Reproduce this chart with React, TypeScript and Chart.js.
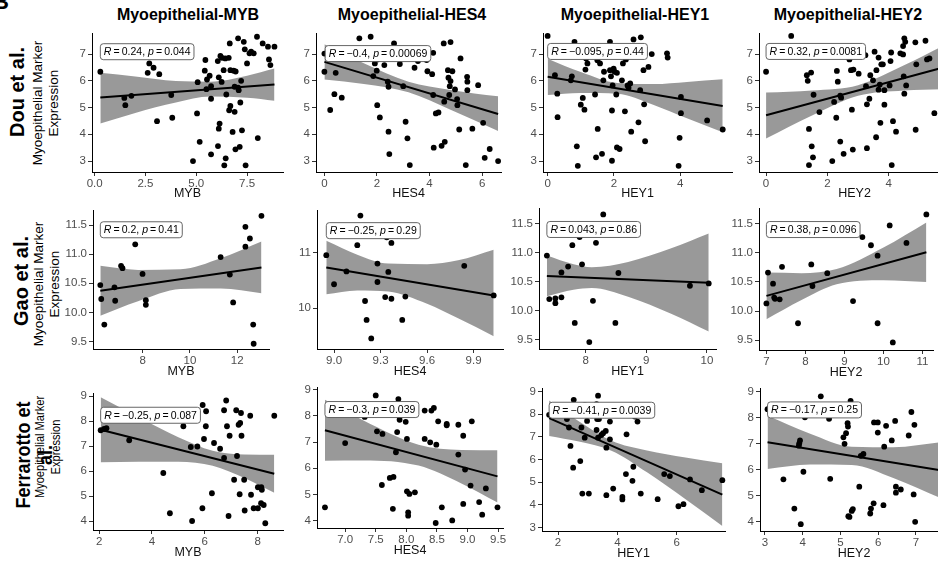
import React, { useEffect, useRef } from "react";
import { Chart, registerables } from "chart.js";
Chart.register(...registerables);

const FONT = '"Liberation Sans", Arial, Helvetica, sans-serif';
Chart.defaults.font.family = FONT;

// ---------------- titles ----------------
const columnTitles = ["Myoepithelial-MYB", "Myoepithelial-HES4", "Myoepithelial-HEY1", "Myoepithelial-HEY2"];
const xAxisTitles = ["MYB", "HES4", "HEY1", "HEY2"];
const rowTitles = ["Dou et al.", "Gao et al.", "Ferrarotto et", "al."];
const yTitleLines = ["Myoepithelial Marker", "Expression"];

// ---------------- Dou et al. ----------------
const douYTicks = [3, 4, 5, 6, 7];
const douYTickLabels = ["3", "4", "5", "6", "7"];

const douMybX = [0.28,1.46,1.51,1.81,2.69,2.61,2.90,3.18,3.07,3.77,3.82,4.84,5.04,5.07,5.17,5.45,5.42,5.50,5.53,5.66,5.73,5.73,5.73,6.06,6.19,6.27,6.11,6.35,6.25,6.15,6.11,6.07,6.43,6.38,6.45,6.48,6.60,6.65,6.68,6.68,6.62,6.79,6.84,6.89,6.89,6.94,6.93,7.06,7.06,7.09,7.14,7.17,7.21,7.25,7.34,7.39,7.43,7.50,7.62,7.70,7.83,7.99,8.03,8.27,8.53,8.58,8.65,8.85];
const douMybY = [6.34,5.36,5.09,5.44,6.65,6.30,6.49,6.25,4.49,5.47,4.62,3.00,4.78,5.95,3.72,6.78,6.38,5.69,6.05,6.19,5.80,5.33,3.25,6.74,6.93,6.86,6.13,6.40,5.96,4.40,4.21,3.56,6.84,2.84,3.10,5.49,6.86,7.40,6.40,5.06,4.90,4.09,6.38,5.78,4.84,6.35,3.44,7.59,5.75,5.65,3.53,5.19,6.00,4.15,7.46,7.18,2.84,6.65,7.03,7.09,7.03,7.65,3.86,7.40,7.28,6.80,6.59,7.28];
const douMybFitX = [0.28, 8.85];
const douMybFitY = [5.38, 5.86];
const douMybBandX = [0.28, 2, 4, 5.7, 7.5, 8.85];
const douMybBandHi = [6.30, 6.16, 5.99, 5.97, 6.19, 6.46];
const douMybBandLo = [4.40, 4.80, 5.19, 5.41, 5.37, 5.26];
const douMybXTicks = [0, 2.5, 5, 7.5];
const douMybXTickLabels = ["0.0", "2.5", "5.0", "7.5"];

const douHes4X = [0,0,0.22,0.43,0.38,0.66,1.33,1.76,1.86,1.92,1.99,2.01,2.01,2.11,2.28,2.41,2.44,2.44,2.47,2.65,2.87,3.0,3.09,3.16,3.25,3.43,3.56,3.89,3.92,4.10,4.14,4.14,4.16,4.24,4.34,4.46,4.54,4.56,4.58,4.70,4.72,4.77,4.80,4.80,4.75,4.87,4.97,5.05,5.06,5.13,5.18,5.43,5.44,5.44,5.38,5.63,5.85,6.04,6.10,6.29,6.61];
const douHes4Y = [7.02,6.34,4.91,6.30,5.50,5.37,7.59,7.65,6.18,6.65,6.38,6.80,5.09,4.63,6.59,5.97,5.78,4.10,3.26,7.40,6.63,5.80,4.47,3.85,2.85,6.49,6.74,6.78,6.36,6.25,7.05,5.47,3.50,4.78,4.82,3.57,7.40,5.22,3.72,6.40,6.12,5.80,7.45,5.99,5.47,6.36,5.68,5.32,5.09,4.18,6.84,6.15,5.97,5.65,2.85,4.21,5.84,4.43,3.12,3.45,3.00];
const douHes4FitX = [0, 6.61];
const douHes4FitY = [6.71, 4.76];
const douHes4BandX = [0, 1.5, 3.2, 4.8, 6.61];
const douHes4BandHi = [7.37, 6.66, 5.97, 5.66, 5.42];
const douHes4BandLo = [6.05, 5.88, 5.57, 4.92, 4.12];
const douHes4XTicks = [0, 2, 4, 6];
const douHes4XTickLabels = ["0", "2", "4", "6"];

const douHey1X = [0,0.22,0.29,0.30,0.70,0.73,0.81,0.88,0.91,1.0,1.06,1.11,1.14,1.20,1.16,1.43,1.46,1.51,1.50,1.58,1.64,1.68,1.70,1.81,1.88,1.88,1.91,1.94,1.94,1.96,1.99,2.02,2.07,2.09,2.09,2.17,2.24,2.27,2.33,2.36,2.41,2.44,2.49,2.52,2.59,2.74,2.79,2.81,2.89,2.91,2.94,3.04,3.14,3.60,3.62,3.95,3.98,4.02,4.02,4.81,5.28];
const douHey1Y = [7.68,6.21,5.52,4.64,6.02,6.17,7.46,3.55,2.82,5.11,5.36,4.92,6.42,6.65,6.84,5.49,3.14,4.20,6.77,6.65,3.27,6.02,6.34,7.28,7.46,6.40,6.17,3.01,4.89,5.83,6.46,6.34,5.49,6.30,3.51,3.45,6.02,6.65,4.86,6.80,5.83,5.74,5.90,4.10,7.55,4.45,5.65,7.63,6.40,5.12,3.74,6.52,7.00,7.03,6.87,2.82,3.87,5.40,4.79,4.52,4.18];
const douHey1FitX = [0, 5.28];
const douHey1FitY = [6.15, 5.06];
const douHey1BandX = [0, 1, 2.1, 3.2, 4.2, 5.28];
const douHey1BandHi = [6.83, 6.33, 5.92, 5.88, 5.96, 6.06];
const douHey1BandLo = [5.47, 5.55, 5.52, 5.10, 4.60, 4.08];
const douHey1XTicks = [0, 2, 4];
const douHey1XTickLabels = ["0", "2", "4"];

const douHey2X = [0,0.82,1.33,1.36,1.47,1.55,1.40,1.40,1.49,1.53,1.74,2.16,2.22,2.29,2.31,2.34,2.42,2.45,2.42,2.53,2.72,2.77,2.85,2.83,2.80,3.02,3.24,3.26,3.29,3.29,3.37,3.40,3.49,3.54,3.59,3.60,3.67,3.67,3.71,3.73,3.76,3.81,3.86,3.86,4.03,4.06,4.08,4.10,4.14,4.24,4.38,4.47,4.51,4.47,4.54,4.49,4.51,4.57,4.87,4.88,4.90,5.20,5.25,5.33,5.49];
const douHey2Y = [6.34,7.68,6.21,6.00,6.31,5.48,4.20,2.85,3.55,3.14,4.83,3.00,5.21,4.62,6.37,5.97,5.45,5.37,3.73,3.27,6.80,6.40,6.42,3.43,4.92,6.27,6.96,5.80,5.12,3.48,5.33,6.21,6.02,7.09,3.89,6.40,6.87,5.67,5.86,4.43,6.62,6.62,5.11,5.65,5.83,6.74,7.06,2.85,4.49,4.10,7.03,6.99,7.59,7.30,7.46,6.17,5.52,5.83,7.44,4.17,6.62,7.50,6.80,6.84,4.79];
const douHey2FitX = [0, 5.75];
const douHey2FitY = [4.71, 6.49];
const douHey2BandX = [0, 1.5, 3, 4.5, 5.75];
const douHey2BandHi = [5.56, 5.64, 5.84, 6.58, 7.29];
const douHey2BandLo = [3.84, 4.70, 5.44, 5.64, 5.69];
const douHey2XTicks = [0, 2, 4, 6];
const douHey2XTickLabels = ["0", "2", "4", "6"];

// ---------------- Gao et al. ----------------
const gaoYTicks = [9.5, 10, 10.5, 11, 11.5];
const gaoYTickLabels = ["9.5", "10.0", "10.5", "11.0", "11.5"];
const gaoHes4YTicks = [10, 11];
const gaoHes4YTickLabels = ["10", "11"];

const gaoMybX = [6.20,6.24,6.37,6.80,6.83,7.08,7.14,7.68,7.99,8.13,8.13,11.30,11.69,11.83,12.35,12.35,12.54,12.68,12.70,13.03];
const gaoMybY = [10.47,10.23,9.79,10.43,10.20,10.80,10.76,11.17,10.66,10.21,10.13,10.95,10.65,10.17,11.47,11.13,11.27,9.79,9.46,11.66];
const gaoMybFitX = [6.2, 13.03];
const gaoMybFitY = [10.37, 10.77];
const gaoMybBandX = [6.2, 7.8, 9.6, 11.3, 13.03];
const gaoMybBandHi = [10.80, 10.73, 10.74, 10.93, 11.22];
const gaoMybBandLo = [9.94, 10.19, 10.40, 10.41, 10.33];
const gaoMybXTicks = [8, 10, 12];
const gaoMybXTickLabels = ["8", "10", "12"];

const gaoHes4X = [8.95,9.0,9.08,9.15,9.17,9.20,9.21,9.24,9.28,9.28,9.33,9.34,9.35,9.37,9.37,9.44,9.46,9.84,10.03,9.25];
const gaoHes4Y = [10.95,10.43,10.66,11.13,11.66,10.13,9.79,9.46,10.80,10.47,10.20,11.27,10.65,11.17,10.17,9.79,10.21,10.76,10.23,11.47];
const gaoHes4FitX = [8.95, 10.03];
const gaoHes4FitY = [10.73, 10.23];
const gaoHes4BandX = [8.95, 9.15, 9.35, 9.6, 9.8, 10.03];
const gaoHes4BandHi = [11.21, 10.96, 10.80, 10.79, 10.86, 11.05];
const gaoHes4BandLo = [10.25, 10.32, 10.30, 10.08, 9.82, 9.50];
const gaoHes4XTicks = [9.0, 9.3, 9.6, 9.9];
const gaoHes4XTickLabels = ["9.0", "9.3", "9.6", "9.9"];

const gaoHey1X = [7.36,7.40,7.50,7.50,7.60,7.60,7.71,7.78,7.82,7.90,7.94,8.06,8.12,8.17,8.29,8.49,8.54,9.72,10.03,7.95];
const gaoHey1Y = [10.95,10.20,10.21,10.13,10.23,10.66,10.76,11.13,9.79,11.27,10.80,9.46,10.17,11.17,11.66,9.79,10.65,10.43,10.47,11.47];
const gaoHey1FitX = [7.36, 10.03];
const gaoHey1FitY = [10.60, 10.48];
const gaoHey1BandX = [7.36, 7.8, 8.1, 8.7, 9.4, 10.03];
const gaoHey1BandHi = [10.95, 10.80, 10.75, 10.84, 11.07, 11.33];
const gaoHey1BandLo = [10.25, 10.36, 10.39, 10.24, 9.95, 9.64];
const gaoHey1XTicks = [8, 9, 10];
const gaoHey1XTickLabels = ["8", "9", "10"];

const gaoHey2X = [7.0,7.04,7.17,7.20,7.34,7.40,7.81,8.15,8.18,8.56,9.22,9.46,9.68,9.85,9.85,10.16,10.24,10.59,11.10,7.22];
const gaoHey2Y = [10.13,10.66,10.47,10.23,10.20,10.76,9.79,10.80,10.43,10.65,10.17,11.27,11.13,9.79,10.95,11.47,9.46,11.17,11.66,10.21];
const gaoHey2FitX = [7.0, 11.1];
const gaoHey2FitY = [10.26, 11.01];
const gaoHey2BandX = [7.0, 7.9, 8.8, 10, 11.1];
const gaoHey2BandHi = [10.66, 10.65, 10.72, 11.09, 11.52];
const gaoHey2BandLo = [9.86, 10.19, 10.46, 10.53, 10.50];
const gaoHey2XTicks = [7, 8, 9, 10, 11];
const gaoHey2XTickLabels = ["7", "8", "9", "10", "11"];

// ---------------- Ferrarotto et al. ----------------
const ferYTicks = [4, 5, 6, 7, 8, 9];
const ferYTickLabels = ["4", "5", "6", "7", "8", "9"];
const ferHey1YTicks = [3, 4, 5, 6, 7, 8, 9];
const ferHey1YTickLabels = ["3", "4", "5", "6", "7", "8", "9"];

const ferMybX = [2.06,2.19,2.28,3.14,4.43,4.68,5.19,5.47,5.52,5.72,5.92,5.91,5.97,6.05,6.04,6.27,6.35,6.58,6.73,6.73,6.81,6.84,6.94,6.90,7.11,7.19,7.22,7.28,7.34,7.37,7.39,7.32,7.49,7.51,7.72,7.75,7.85,8.01,8.01,8.14,8.16,8.13,8.23,8.29,8.63];
const ferMybY = [7.64,7.69,7.72,7.24,5.93,4.32,7.80,6.97,4.01,6.99,8.65,4.52,7.29,8.40,7.80,5.12,7.13,6.90,8.44,6.53,8.83,7.80,7.42,4.21,5.66,8.44,6.61,7.86,7.93,8.33,7.42,5.08,5.66,4.43,8.22,5.06,4.52,4.52,5.36,5.36,5.26,4.72,4.65,3.92,8.22];
const ferMybFitX = [2.06, 8.63];
const ferMybFitY = [7.66, 5.90];
const ferMybBandX = [2.06, 3.5, 5, 6.3, 7.5, 8.63];
const ferMybBandHi = [8.96, 8.16, 7.36, 6.82, 6.67, 6.66];
const ferMybBandLo = [6.36, 6.38, 6.38, 6.22, 5.73, 5.14];
const ferMybXTicks = [2, 4, 6, 8];
const ferMybXTickLabels = ["2", "4", "6", "8"];

const ferHes4X = [6.67,7.0,7.32,7.50,7.52,7.60,7.61,7.73,7.79,7.78,7.83,7.85,7.87,7.89,7.99,8.01,8.01,8.03,8.03,8.05,8.14,8.30,8.30,8.39,8.41,8.45,8.49,8.48,8.52,8.58,8.66,8.66,8.75,8.85,8.85,8.93,8.93,8.96,9.05,9.07,9.19,9.24,9.30,9.49];
const ferHes4Y = [4.51,6.96,7.96,8.78,7.41,5.36,7.31,5.63,5.67,4.45,6.61,7.38,8.64,7.85,7.77,5.12,7.12,4.32,4.19,5.02,5.08,8.20,7.12,6.99,8.20,8.30,6.90,3.91,7.79,4.51,7.69,7.64,4.01,7.66,6.52,7.24,4.64,5.95,5.34,7.79,4.71,4.23,5.23,4.51];
const ferHes4FitX = [6.67, 9.49];
const ferHes4FitY = [7.45, 5.69];
const ferHes4BandX = [6.67, 7.3, 8.2, 8.9, 9.49];
const ferHes4BandHi = [8.61, 7.82, 6.90, 6.70, 6.69];
const ferHes4BandLo = [6.29, 6.30, 6.10, 5.42, 4.69];
const ferHes4XTicks = [7.0, 7.5, 8.0, 8.5, 9.0, 9.5];
const ferHes4XTickLabels = ["7.0", "7.5", "8.0", "8.5", "9.0", "9.5"];

const ferHey1X = [1.70,2.30,2.37,2.42,2.53,2.51,2.75,2.79,2.82,2.90,2.98,3.04,3.30,3.32,3.35,3.35,3.38,3.46,3.52,3.61,3.63,3.63,3.75,3.75,3.86,4.17,4.17,4.29,4.31,4.54,4.51,4.59,4.68,4.79,5.36,5.58,5.77,6.06,6.23,6.45,6.85,7.54,2.90,3.30,3.90,4.40];
const ferHey1Y = [7.97,7.78,7.41,6.60,8.63,5.64,5.93,7.41,4.50,6.96,7.70,4.50,7.30,7.78,6.96,8.81,7.78,7.08,7.16,7.26,6.52,4.43,7.67,6.89,4.72,4.35,4.24,5.36,7.11,5.68,5.06,7.89,7.67,4.50,4.25,5.36,5.27,3.94,4.03,5.12,4.65,5.09,8.40,8.44,8.22,8.30];
const ferHey1FitX = [1.70, 7.54];
const ferHey1FitY = [7.82, 4.45];
const ferHey1BandX = [1.7, 2.7, 3.8, 5, 6.3, 7.54];
const ferHey1BandHi = [8.60, 7.69, 6.83, 6.40, 6.09, 5.83];
const ferHey1BandLo = [7.04, 6.79, 6.39, 5.44, 4.25, 3.07];
const ferHey1XTicks = [2, 4, 6];
const ferHey1XTickLabels = ["2", "4", "6"];

const ferHey2X = [3.07,3.49,3.78,3.93,3.91,3.90,3.95,4.02,4.06,4.48,4.70,4.73,5.08,5.11,5.15,5.19,5.20,5.21,5.24,5.27,5.30,5.33,5.48,5.50,5.54,5.61,5.79,5.81,5.88,5.89,5.99,5.99,6.14,6.16,6.21,6.36,6.45,6.47,6.47,6.60,6.81,6.88,6.96,6.94,6.98];
const ferHey2Y = [8.32,5.63,4.51,7.12,7.01,6.92,3.91,5.92,8.01,8.81,7.95,5.65,7.24,6.99,7.40,7.78,7.65,4.22,4.19,8.64,4.42,4.49,8.46,5.35,6.53,6.60,4.32,4.51,4.71,7.81,7.81,7.42,4.64,6.88,7.68,7.12,7.87,5.35,5.12,5.24,7.31,8.21,7.72,5.05,4.00];
const ferHey2FitX = [3.07, 7.65];
const ferHey2FitY = [7.05, 5.98];
const ferHey2BandX = [3.07, 4.2, 5.3, 6.4, 7.65];
const ferHey2BandHi = [8.07, 7.38, 6.88, 6.86, 7.05];
const ferHey2BandLo = [6.03, 6.20, 6.18, 5.68, 4.91];
const ferHey2XTicks = [3, 4, 5, 6, 7];
const ferHey2XTickLabels = ["3", "4", "5", "6", "7"];

// ---------------- correlation labels ----------------
const statR = ["0.24", "\u22120.4", "\u22120.095", "0.32", "0.2", "\u22120.25", "0.043", "0.38", "\u22120.25", "\u22120.3", "\u22120.41", "\u22120.17"];
const statP = ["0.044", "0.00069", "0.44", "0.0081", "0.41", "0.29", "0.86", "0.096", "0.087", "0.039", "0.0039", "0.25"];

// ---------------- panel assembly (styling / layout) ----------------
type PanelSpec = {
  xs: number[]; ys: number[];
  fitX: number[]; fitY: number[];
  bandX: number[]; bandHi: number[]; bandLo: number[];
  statX: number; statY: number;
  xTicks: number[]; xTickLabels: string[];
  yTicks: number[]; yTickLabels: string[];
  xMin: number; xMax: number; yMin: number; yMax: number;
  xTitle: string;
  rect: number[]; xh: number;
};

const PANELS: PanelSpec[] = [
  { xs: douMybX, ys: douMybY, fitX: douMybFitX, fitY: douMybFitY, bandX: douMybBandX, bandHi: douMybBandHi, bandLo: douMybBandLo, statX: 0.28, statY: 7.09, xTicks: douMybXTicks, xTickLabels: douMybXTickLabels, yTicks: douYTicks, yTickLabels: douYTickLabels, xMin: -0.13, xMax: 9.27, yMin: 2.59, yMax: 7.79, xTitle: xAxisTitles[0], rect: [92, 33, 283, 172], xh: 29 },
  { xs: douHes4X, ys: douHes4Y, fitX: douHes4FitX, fitY: douHes4FitY, bandX: douHes4BandX, bandHi: douHes4BandHi, bandLo: douHes4BandLo, statX: 0.03, statY: 7.02, xTicks: douHes4XTicks, xTickLabels: douHes4XTickLabels, yTicks: douYTicks, yTickLabels: douYTickLabels, xMin: -0.32, xMax: 6.72, yMin: 2.59, yMax: 7.79, xTitle: xAxisTitles[1], rect: [316, 33, 501, 172], xh: 29 },
  { xs: douHey1X, ys: douHey1Y, fitX: douHey1FitX, fitY: douHey1FitY, bandX: douHey1BandX, bandHi: douHey1BandHi, bandLo: douHey1BandLo, statX: 0, statY: 7.10, xTicks: douHey1XTicks, xTickLabels: douHey1XTickLabels, yTicks: douYTicks, yTickLabels: douYTickLabels, xMin: -0.14, xMax: 5.56, yMin: 2.59, yMax: 7.79, xTitle: xAxisTitles[2], rect: [543, 33, 732, 172], xh: 29 },
  { xs: douHey2X, ys: douHey2Y, fitX: douHey2FitX, fitY: douHey2FitY, bandX: douHey2BandX, bandHi: douHey2BandHi, bandLo: douHey2BandLo, statX: 0, statY: 7.10, xTicks: douHey2XTicks, xTickLabels: douHey2XTickLabels, yTicks: douYTicks, yTickLabels: douYTickLabels, xMin: -0.23, xMax: 6.0, yMin: 2.59, yMax: 7.79, xTitle: xAxisTitles[3], rect: [759, 33, 950, 172], xh: 29 },

  { xs: gaoMybX, ys: gaoMybY, fitX: gaoMybFitX, fitY: gaoMybFitY, bandX: gaoMybBandX, bandHi: gaoMybBandHi, bandLo: gaoMybBandLo, statX: 6.2, statY: 11.42, xTicks: gaoMybXTicks, xTickLabels: gaoMybXTickLabels, yTicks: gaoYTicks, yTickLabels: gaoYTickLabels, xMin: 5.89, xMax: 13.35, yMin: 9.37, yMax: 11.76, xTitle: xAxisTitles[0], rect: [93, 210, 269, 349], xh: 30 },
  { xs: gaoHes4X, ys: gaoHes4Y, fitX: gaoHes4FitX, fitY: gaoHes4FitY, bandX: gaoHes4BandX, bandHi: gaoHes4BandHi, bandLo: gaoHes4BandLo, statX: 8.95, statY: 11.39, xTicks: gaoHes4XTicks, xTickLabels: gaoHes4XTickLabels, yTicks: gaoHes4YTicks, yTickLabels: gaoHes4YTickLabels, xMin: 8.89, xMax: 10.09, yMin: 9.27, yMax: 11.76, xTitle: xAxisTitles[1], rect: [317, 210, 503, 349], xh: 30 },
  { xs: gaoHey1X, ys: gaoHey1Y, fitX: gaoHey1FitX, fitY: gaoHey1FitY, bandX: gaoHey1BandX, bandHi: gaoHey1BandHi, bandLo: gaoHey1BandLo, statX: 7.36, statY: 11.40, xTicks: gaoHey1XTicks, xTickLabels: gaoHey1XTickLabels, yTicks: gaoYTicks, yTickLabels: gaoYTickLabels, xMin: 7.23, xMax: 10.15, yMin: 9.34, yMax: 11.77, xTitle: xAxisTitles[2], rect: [539, 208, 716, 349], xh: 30 },
  { xs: gaoHey2X, ys: gaoHey2Y, fitX: gaoHey2FitX, fitY: gaoHey2FitY, bandX: gaoHey2BandX, bandHi: gaoHey2BandHi, bandLo: gaoHey2BandLo, statX: 7.0, statY: 11.40, xTicks: gaoHey2XTicks, xTickLabels: gaoHey2XTickLabels, yTicks: gaoYTicks, yTickLabels: gaoYTickLabels, xMin: 6.81, xMax: 11.27, yMin: 9.33, yMax: 11.77, xTitle: xAxisTitles[3], rect: [759, 208, 933, 350], xh: 30 },

  { xs: ferMybX, ys: ferMybY, fitX: ferMybFitX, fitY: ferMybFitY, bandX: ferMybBandX, bandHi: ferMybBandHi, bandLo: ferMybBandLo, statX: 2.06, statY: 8.24, xTicks: ferMybXTicks, xTickLabels: ferMybXTickLabels, yTicks: ferYTicks, yTickLabels: ferYTickLabels, xMin: 1.77, xMax: 8.96, yMin: 3.65, yMax: 9.13, xTitle: xAxisTitles[0], rect: [93, 393, 283, 530], xh: 30 },
  { xs: ferHes4X, ys: ferHes4Y, fitX: ferHes4FitX, fitY: ferHes4FitY, bandX: ferHes4BandX, bandHi: ferHes4BandHi, bandLo: ferHes4BandLo, statX: 6.67, statY: 8.24, xTicks: ferHes4XTicks, xTickLabels: ferHes4XTickLabels, yTicks: ferYTicks, yTickLabels: ferYTickLabels, xMin: 6.54, xMax: 9.58, yMin: 3.72, yMax: 9.10, xTitle: xAxisTitles[1], rect: [317, 387, 503, 528], xh: 30 },
  { xs: ferHey1X, ys: ferHey1Y, fitX: ferHey1FitX, fitY: ferHey1FitY, bandX: ferHey1BandX, bandHi: ferHey1BandHi, bandLo: ferHey1BandLo, statX: 1.70, statY: 8.17, xTicks: ferHey1XTicks, xTickLabels: ferHey1XTickLabels, yTicks: ferHey1YTicks, yTickLabels: ferHey1YTickLabels, xMin: 1.46, xMax: 7.63, yMin: 2.85, yMax: 9.15, xTitle: xAxisTitles[2], rect: [542, 388, 725, 531], xh: 30 },
  { xs: ferHey2X, ys: ferHey2Y, fitX: ferHey2FitX, fitY: ferHey2FitY, bandX: ferHey2BandX, bandHi: ferHey2BandHi, bandLo: ferHey2BandLo, statX: 3.07, statY: 8.29, xTicks: ferHey2XTicks, xTickLabels: ferHey2XTickLabels, yTicks: ferYTicks, yTickLabels: ferYTickLabels, xMin: 2.87, xMax: 7.85, yMin: 3.65, yMax: 9.13, xTitle: xAxisTitles[3], rect: [760, 388, 948, 531], xh: 30 },
];

const YW = 44;
const PT = 6;
const PR = 8;
const BAND = "rgba(0,0,0,0.4)";
const TICK_COLOR = "#4d4d4d";

function Panel({ spec, idx }: { spec: PanelSpec; idx: number }) {
  const ref = useRef<HTMLCanvasElement>(null);
  const [l, t, r, b] = spec.rect;
  const width = r - l + YW + PR;
  const height = b - t + PT + spec.xh;

  useEffect(() => {
    const statPlugin = {
      id: "statLabel",
      afterDatasetsDraw(chart: any) {
        const ctx = chart.ctx;
        const px = chart.scales.x.getPixelForValue(spec.statX);
        const py = chart.scales.y.getPixelForValue(spec.statY);
        const parts = [
          { t: "R", it: true },
          { t: "\u2009=\u2009" + statR[idx] + ", ", it: false },
          { t: "p", it: true },
          { t: "\u2009=\u2009" + statP[idx], it: false },
        ];
        const size = 10.5;
        ctx.save();
        let w = 0;
        const widths = parts.map((p) => {
          ctx.font = (p.it ? "italic " : "") + size + "px " + FONT;
          const m = ctx.measureText(p.t).width;
          w += m;
          return m;
        });
        const pad = 3.5;
        const h = 16;
        const bx = px, by = py - h / 2, bw = w + 2 * pad;
        ctx.beginPath();
        const rr = 3;
        ctx.moveTo(bx + rr, by);
        ctx.lineTo(bx + bw - rr, by);
        ctx.quadraticCurveTo(bx + bw, by, bx + bw, by + rr);
        ctx.lineTo(bx + bw, by + h - rr);
        ctx.quadraticCurveTo(bx + bw, by + h, bx + bw - rr, by + h);
        ctx.lineTo(bx + rr, by + h);
        ctx.quadraticCurveTo(bx, by + h, bx, by + h - rr);
        ctx.lineTo(bx, by + rr);
        ctx.quadraticCurveTo(bx, by, bx + rr, by);
        ctx.closePath();
        ctx.fillStyle = "#ffffff";
        ctx.fill();
        ctx.strokeStyle = "#555555";
        ctx.lineWidth = 0.9;
        ctx.stroke();
        ctx.fillStyle = "#000000";
        ctx.textBaseline = "middle";
        let cx = bx + pad;
        parts.forEach((p, i) => {
          ctx.font = (p.it ? "italic " : "") + size + "px " + FONT;
          ctx.fillText(p.t, cx, py + 0.5);
          cx += widths[i];
        });
        ctx.restore();
      },
    };

    const zeroPad = (s: any) => {
      s.paddingLeft = 0;
      s.paddingRight = 0;
      s.paddingTop = 0;
      s.paddingBottom = 0;
    };

    const chart = new Chart(ref.current as HTMLCanvasElement, {
      type: "line",
      data: {
        datasets: [
          {
            data: spec.bandX.map((x, i) => ({ x, y: spec.bandLo[i] })),
            borderWidth: 0,
            borderColor: "rgba(0,0,0,0)",
            pointRadius: 0,
            fill: false,
            cubicInterpolationMode: "monotone",
            order: 3,
          },
          {
            data: spec.bandX.map((x, i) => ({ x, y: spec.bandHi[i] })),
            borderWidth: 0,
            borderColor: "rgba(0,0,0,0)",
            backgroundColor: BAND,
            pointRadius: 0,
            fill: "-1",
            cubicInterpolationMode: "monotone",
            order: 3,
          },
          {
            data: spec.fitX.map((x, i) => ({ x, y: spec.fitY[i] })),
            borderColor: "#000000",
            borderWidth: 2,
            pointRadius: 0,
            fill: false,
            order: 2,
          },
          {
            data: spec.xs.map((x, i) => ({ x, y: spec.ys[i] })),
            showLine: false,
            pointRadius: 2.9,
            pointBackgroundColor: "#000000",
            pointBorderWidth: 0,
            pointBorderColor: "#000000",
            borderColor: "#000000",
            fill: false,
            clip: false,
            order: 1,
          },
        ],
      } as any,
      options: {
        animation: false,
        responsive: false,
        devicePixelRatio: 1,
        events: [],
        layout: { padding: { left: 0, top: PT, right: PR, bottom: 0 } },
        plugins: { legend: { display: false }, tooltip: { enabled: false } },
        scales: {
          x: {
            type: "linear",
            min: spec.xMin,
            max: spec.xMax,
            afterBuildTicks: (s: any) => {
              s.ticks = spec.xTicks.map((v) => ({ value: v }));
            },
            afterFit: (s: any) => {
              s.height = spec.xh;
              zeroPad(s);
            },
            ticks: {
              autoSkip: false,
              maxRotation: 0,
              minRotation: 0,
              color: TICK_COLOR,
              font: { size: 11.5 },
              padding: 1,
              callback: (_v: any, i: number) => spec.xTickLabels[i],
            },
            grid: { display: true, drawOnChartArea: false, drawTicks: true, tickLength: 4, color: "#333333", lineWidth: 1 },
            border: { display: true, color: "#000000", width: 1 },
            title: { display: true, text: spec.xTitle, color: "#111111", font: { size: 12.5 }, padding: 0 },
          },
          y: {
            type: "linear",
            min: spec.yMin,
            max: spec.yMax,
            afterBuildTicks: (s: any) => {
              s.ticks = spec.yTicks.map((v) => ({ value: v }));
            },
            afterFit: (s: any) => {
              s.width = YW;
              zeroPad(s);
            },
            ticks: {
              autoSkip: false,
              color: TICK_COLOR,
              font: { size: 11.5 },
              padding: 2,
              callback: (_v: any, i: number) => spec.yTickLabels[i],
            },
            grid: { display: true, drawOnChartArea: false, drawTicks: true, tickLength: 4, color: "#333333", lineWidth: 1 },
            border: { display: true, color: "#000000", width: 1 },
            title: { display: false },
          },
        },
      } as any,
      plugins: [statPlugin],
    });
    return () => chart.destroy();
  }, []);

  return (
    <canvas
      ref={ref}
      width={width}
      height={height}
      style={{ position: "absolute", left: l - YW, top: t - PT, width, height }}
    />
  );
}

const colTitleCenters = [188, 412, 635, 848];

function RotText({ cx, cy, lines, size, bold, lh, squeeze }: { cx: number; cy: number; lines: string[]; size: number; bold?: boolean; lh: number; squeeze?: number }) {
  return (
    <div
      style={{
        position: "absolute",
        left: cx,
        top: cy,
        transform: `translate(-50%,-50%) rotate(-90deg) scaleX(${squeeze ?? 1})`,
        whiteSpace: "nowrap",
        textAlign: "center",
        fontSize: size,
        fontWeight: bold ? 700 : 400,
        lineHeight: lh + "px",
        fontFamily: FONT,
        color: "#000",
      }}
    >
      {lines.map((s, i) => (
        <div key={i}>{s}</div>
      ))}
    </div>
  );
}

export default function App() {
  return (
    <div
      style={{
        position: "fixed",
        left: 0,
        top: 0,
        width: 938,
        height: 564,
        overflow: "hidden",
        background: "#ffffff",
        fontFamily: FONT,
      }}
    >
      <div style={{ position: "absolute", left: -7, top: -9, fontSize: 22, fontWeight: 700, lineHeight: "22px" }}>B</div>
      {columnTitles.map((s, i) => (
        <div
          key={s}
          style={{
            position: "absolute",
            left: colTitleCenters[i],
            top: 5,
            transform: "translateX(-50%)",
            fontSize: 16,
            fontWeight: 700,
            lineHeight: "20px",
            whiteSpace: "nowrap",
          }}
        >
          {s}
        </div>
      ))}
      <RotText cx={17} cy={92} lines={[rowTitles[0]]} size={20} bold lh={22} />
      <RotText cx={21} cy={281} lines={[rowTitles[1]]} size={20} bold lh={22} />
      <RotText cx={46} cy={103} lines={yTitleLines} size={13.5} lh={16} />
      <RotText cx={47} cy={284} lines={yTitleLines} size={13.5} lh={16} />
      <RotText cx={48} cy={447} lines={yTitleLines} size={13.5} lh={16} squeeze={0.82} />
      <RotText cx={34} cy={455} lines={[rowTitles[2], rowTitles[3]]} size={20} bold lh={22} squeeze={0.9} />
      {PANELS.map((p, i) => (
        <Panel key={i} spec={p} idx={i} />
      ))}
    </div>
  );
}
